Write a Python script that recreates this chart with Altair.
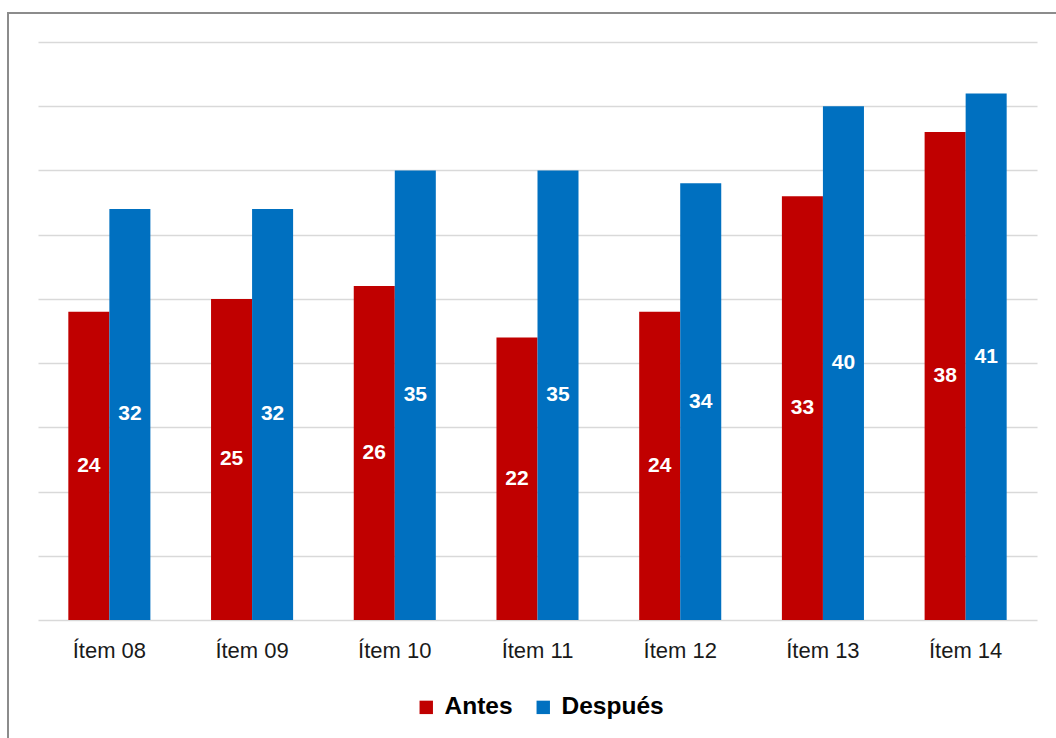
import altair as alt
import pandas as pd

items = ["Ítem 08", "Ítem 09", "Ítem 10", "Ítem 11", "Ítem 12", "Ítem 13", "Ítem 14"]
antes = [24, 25, 26, 22, 24, 33, 38]
despues = [32, 32, 35, 35, 34, 40, 41]
series = ["Antes", "Después"]
colors = ["#C00000", "#0070C0"]

rows = []
for it, a, d in zip(items, antes, despues):
    rows.append({"item": it, "serie": "Antes", "valor": a})
    rows.append({"item": it, "serie": "Después", "valor": d})
df = pd.DataFrame(rows)

W, H = 999, 578

x_enc = alt.X("item:N", sort=items, title=None,
              scale=alt.Scale(paddingInner=0.425, paddingOuter=0.2125),
              axis=alt.Axis(domain=False, ticks=False, labelFontSize=22,
                            labelFont="Liberation Sans Narrow, Liberation Sans, Arial",
                            labelColor="#1a1a1a", labelPadding=20, labelAngle=0))
y_scale = alt.Scale(domain=[0, 45], nice=False, zero=True)

bars = alt.Chart(df).mark_bar().encode(
    x=x_enc,
    xOffset=alt.XOffset("serie:N", sort=series),
    y=alt.Y("valor:Q", scale=y_scale, title=None,
            axis=alt.Axis(values=list(range(0, 50, 5)), labels=False, ticks=False,
                          domain=False, grid=True, gridColor="#d9d9d9", gridWidth=1.5)),
    color=alt.Color("serie:N", sort=series,
                    scale=alt.Scale(domain=series, range=colors),
                    legend=alt.Legend(title=None, orient="none", direction="horizontal",
                                      legendX=376, legendY=653,
                                      symbolType="square", symbolSize=180,
                                      symbolStrokeWidth=0, symbolOpacity=1,
                                      labelFontSize=24.5, labelFontWeight="bold",
                                      labelFont="Liberation Sans, Arial", labelColor="#000000",
                                      columnPadding=18, symbolOffset=0, labelOffset=6)),
)

labels = alt.Chart(df).transform_calculate(
    mid="datum.valor / 2"
).mark_text(color="white", fontSize=21, fontWeight="bold",
            font="Liberation Sans Narrow, Liberation Sans, Arial", baseline="middle").encode(
    x=alt.X("item:N", sort=items),
    xOffset=alt.XOffset("serie:N", sort=series),
    y=alt.Y("mid:Q", scale=y_scale),
    text=alt.Text("valor:Q"),
)

frame = alt.Chart(pd.DataFrame({"k": [0]})).mark_rect(
    filled=False, stroke="#8c8c8c", strokeWidth=2
).encode(
    x=alt.value(-30), x2=alt.value(1022), y=alt.value(-29), y2=alt.value(700)
)

chart = alt.layer(frame, bars, labels).properties(
    width=W, height=H,
    padding={"left": 38, "top": 42, "right": 19, "bottom": 118},
    autosize=alt.AutoSizeParams(type="none"),
    background="white",
).configure_view(stroke=None)

chart.save("out.html", embed_options={"renderer": "svg", "actions": False})
